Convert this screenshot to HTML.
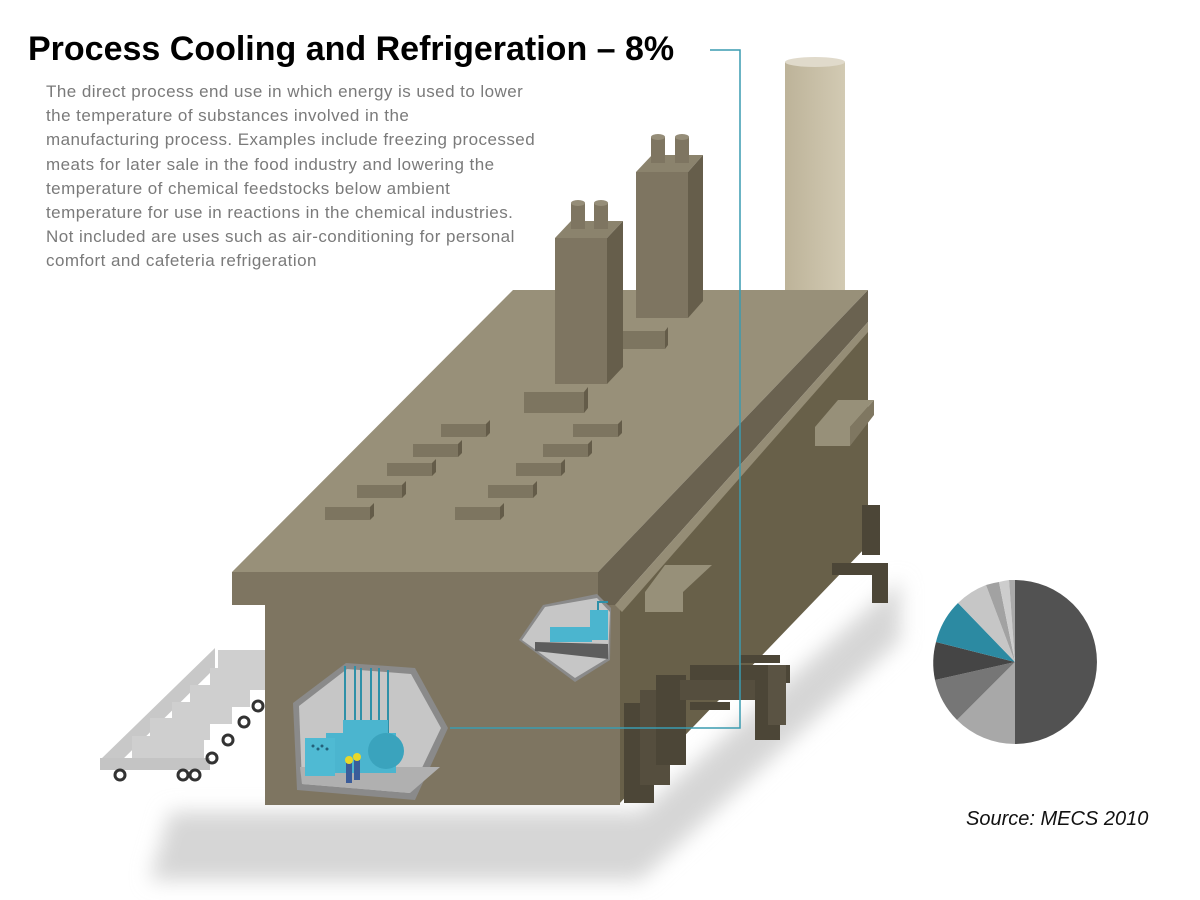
<!DOCTYPE html>
<html><head><meta charset="utf-8"><style>
html,body{margin:0;padding:0;background:#fff;}
body{width:1200px;height:900px;position:relative;overflow:hidden;font-family:"Liberation Sans",sans-serif;}
h1{position:absolute;left:28px;top:30px;margin:0;font-size:34px;font-weight:bold;color:#000;letter-spacing:0px;white-space:nowrap;}
.p{position:absolute;left:46px;top:80px;font-size:17px;line-height:24.2px;color:#7a7a7a;white-space:nowrap;letter-spacing:0.45px;}
.src{position:absolute;left:966px;top:808px;font-size:20px;font-style:italic;color:#111;}
svg{position:absolute;left:0;top:0;}
</style></head><body>
<svg width="1200" height="900" viewBox="0 0 1200 900">
<defs>
<filter id="bl"><feGaussianBlur stdDeviation="10"/></filter>
<linearGradient id="ch" x1="0" x2="1"><stop offset="0" stop-color="#bdb399"/><stop offset="1" stop-color="#d2cab3"/></linearGradient>
</defs>
<polygon points="170,812 640,812 900,580 900,640 640,880 150,880" fill="#d6d6d6" filter="url(#bl)"/>
<rect x="785" y="62" width="60" height="230" fill="url(#ch)"/>
<ellipse cx="815" cy="62" rx="30" ry="5" fill="#e0dacb"/>
<g fill="#cfcfcf">
<polygon points="100,760 215,648 215,668 112,770" fill="#c8c8c8"/>
<rect x="218" y="650" width="48" height="22"/><rect x="210" y="668" width="56" height="22"/>
<rect x="190" y="685" width="60" height="22"/><rect x="172" y="702" width="60" height="22"/>
<rect x="150" y="718" width="60" height="22"/><rect x="132" y="736" width="72" height="26"/>
<rect x="100" y="758" width="110" height="12" fill="#c4c4c4"/>
</g>
<g fill="none" stroke="#333" stroke-width="3">
<circle cx="120" cy="775" r="5"/><circle cx="183" cy="775" r="5"/><circle cx="195" cy="775" r="5"/>
<circle cx="212" cy="758" r="5"/><circle cx="228" cy="740" r="5"/><circle cx="244" cy="722" r="5"/><circle cx="258" cy="706" r="5"/>
</g>
<polygon points="618,605 868,325 868,545 618,805" fill="#686049"/>
<rect x="265" y="600" width="355" height="205" fill="#7e7561"/>
<polygon points="232,572 598,572 868,290 513,290" fill="#989079"/>
<polygon points="232,572 598,572 598,605 232,605" fill="#7e7561"/>
<polygon points="598,572 868,290 868,322 615,605 598,605" fill="#6a6250"/>
<polygon points="615,605 868,322 868,332 622,612" fill="#958d76"/>
<g>
<g fill="#7d7560">
<rect x="325" y="507" width="45" height="13"/><rect x="357" y="485" width="45" height="13"/><rect x="387" y="463" width="45" height="13"/><rect x="413" y="444" width="45" height="13"/><rect x="441" y="424" width="45" height="13"/>
<rect x="455" y="507" width="45" height="13"/><rect x="488" y="485" width="45" height="13"/><rect x="516" y="463" width="45" height="13"/><rect x="543" y="444" width="45" height="13"/><rect x="573" y="424" width="45" height="13"/>
<rect x="524" y="392" width="60" height="21"/><rect x="623" y="331" width="42" height="18"/>
</g>
<g fill="#645c49">
<polygon points="370,507 374,503 374,516 370,520"/><polygon points="402,485 406,481 406,494 402,498"/><polygon points="432,463 436,459 436,472 432,476"/><polygon points="458,444 462,440 462,453 458,457"/><polygon points="486,424 490,420 490,433 486,437"/>
<polygon points="500,507 504,503 504,516 500,520"/><polygon points="533,485 537,481 537,494 533,498"/><polygon points="561,463 565,459 565,472 561,476"/><polygon points="588,444 592,440 592,453 588,457"/><polygon points="618,424 622,420 622,433 618,437"/>
<polygon points="584,392 588,387 588,408 584,413"/><polygon points="665,331 668,327 668,345 665,349"/>
</g>
</g>
<polygon points="555,238 571,221 623,221 607,238" fill="#8b836d"/>
<rect x="555" y="238" width="52" height="146" fill="#7e7561"/>
<polygon points="607,238 623,221 623,367 607,384" fill="#665e4b"/>
<rect x="571" y="203" width="14" height="26" fill="#7e7561"/><ellipse cx="578" cy="203" rx="7" ry="3" fill="#958d78"/>
<rect x="594" y="203" width="14" height="26" fill="#7e7561"/><ellipse cx="601" cy="203" rx="7" ry="3" fill="#958d78"/>
<polygon points="636,172 652,155 703,155 688,172" fill="#8b836d"/>
<rect x="636" y="172" width="52" height="146" fill="#7e7561"/>
<polygon points="688,172 703,155 703,301 688,318" fill="#665e4b"/>
<rect x="651" y="137" width="14" height="26" fill="#7e7561"/><ellipse cx="658" cy="137" rx="7" ry="3" fill="#958d78"/>
<rect x="675" y="137" width="14" height="26" fill="#7e7561"/><ellipse cx="682" cy="137" rx="7" ry="3" fill="#958d78"/>
<polygon points="645,592 665,565 712,565 683,592" fill="#979079"/><rect x="645" y="592" width="38" height="20" fill="#979079"/>
<polygon points="815,427 838,400 874,400 850,427" fill="#979079"/><rect x="815" y="427" width="35" height="19" fill="#979079"/>
<polygon points="850,427 874,400 874,415 850,446" fill="#7f7761"/>
<rect x="862" y="505" width="18" height="50" fill="#4c4637"/>
<polygon points="832,563 888,563 888,603 872,603 872,575 832,575" fill="#4c4637"/>
<g fill="#4c4637">
<rect x="624" y="703" width="30" height="100"/><rect x="640" y="690" width="30" height="95" fill="#554e3e"/><rect x="656" y="675" width="30" height="90" fill="#4c4637"/>
<rect x="690" y="665" width="100" height="18"/><rect x="680" y="680" width="95" height="20" fill="#554e3e"/>
<rect x="755" y="680" width="25" height="60"/><rect x="768" y="665" width="18" height="60" fill="#5a5343"/>
<rect x="740" y="655" width="40" height="8"/><rect x="690" y="702" width="40" height="8"/>
</g>
<polygon points="293,703 346,663 415,668 448,728 415,800 297,790" fill="#8a8a8a"/>
<polygon points="299,706 347,669 411,674 441,728 410,793 302,784" fill="#c6c6c6"/>
<polygon points="300,767 440,767 410,793 302,784" fill="#b0b0b0"/>
<g stroke="#2e90a8" stroke-width="2"><line x1="345" y1="666" x2="345" y2="760"/><line x1="355" y1="666" x2="355" y2="760"/><line x1="361" y1="668" x2="361" y2="760"/><line x1="371" y1="668" x2="371" y2="760"/><line x1="379" y1="668" x2="379" y2="760"/><line x1="388" y1="670" x2="388" y2="760"/></g>
<rect x="326" y="733" width="70" height="40" fill="#4bb5cf"/>
<rect x="343" y="720" width="45" height="20" fill="#4bb5cf"/>
<circle cx="386" cy="751" r="18" fill="#3aa3bd"/>
<rect x="305" y="738" width="30" height="38" fill="#4fbad3"/>
<g fill="#23607a"><circle cx="313" cy="746" r="1.5"/><circle cx="318" cy="749" r="1.5"/><circle cx="322" cy="746" r="1.5"/><circle cx="327" cy="749" r="1.5"/></g>
<rect x="346" y="763" width="6" height="20" fill="#3a5c9a"/><rect x="354" y="760" width="6" height="20" fill="#3a5c9a"/>
<circle cx="349" cy="760" r="4" fill="#e8d82a"/><circle cx="357" cy="757" r="4" fill="#e8d82a"/>
<polygon points="519,640 543,605 597,594 611,608 610,660 575,682" fill="#8a8a8a"/>
<polygon points="522,640 545,607 597,598 610,612 608,658 575,678" fill="#c6c6c6"/>
<polygon points="535,642 608,644 608,659 535,651" fill="#5d5d5d"/>
<rect x="550" y="627" width="42" height="15" fill="#4bb5cf"/><rect x="590" y="610" width="18" height="30" fill="#4bb5cf"/>
<polyline points="598,610 598,602 608,602" fill="none" stroke="#2e90a8" stroke-width="2"/>
<polyline points="710,50 740,50 740,728 450,728" fill="none" stroke="#3a9bb0" stroke-width="1.5"/>
<g transform="translate(1015,662)">
<path d="M0,0 L0,-82 A82,82 0 0 1 0,82 Z" fill="#525252"/>
<path d="M0,0 L0,82 A82,82 0 0 1 -58,58 Z" fill="#a8a8a8"/>
<path d="M0,0 L-58,58 A82,82 0 0 1 -80,18 Z" fill="#767676"/>
<path d="M0,0 L-80,18 A82,82 0 0 1 -79,-20 Z" fill="#454545"/>
<path d="M0,0 L-79,-20 A82,82 0 0 1 -57,-59 Z" fill="#2c8aa2"/>
<path d="M0,0 L-57,-59 A82,82 0 0 1 -29,-77 Z" fill="#c6c6c6"/>
<path d="M0,0 L-29,-77 A82,82 0 0 1 -16,-80 Z" fill="#a2a2a2"/>
<path d="M0,0 L-16,-80 A82,82 0 0 1 -6,-82 Z" fill="#cdcdcd"/>
<path d="M0,0 L-6,-82 A82,82 0 0 1 0,-82 Z" fill="#aaaaaa"/>
</g>
</svg>
<h1>Process Cooling and Refrigeration – 8%</h1>
<div class="p">The direct process end use in which energy is used to lower<br>the temperature of substances involved in the<br>manufacturing process. Examples include freezing processed<br>meats for later sale in the food industry and lowering the<br>temperature of chemical feedstocks below ambient<br>temperature for use in reactions in the chemical industries.<br>Not included are uses such as air-conditioning for personal<br>comfort and cafeteria refrigeration</div>
<div class="src">Source: MECS 2010</div>
</body></html>
